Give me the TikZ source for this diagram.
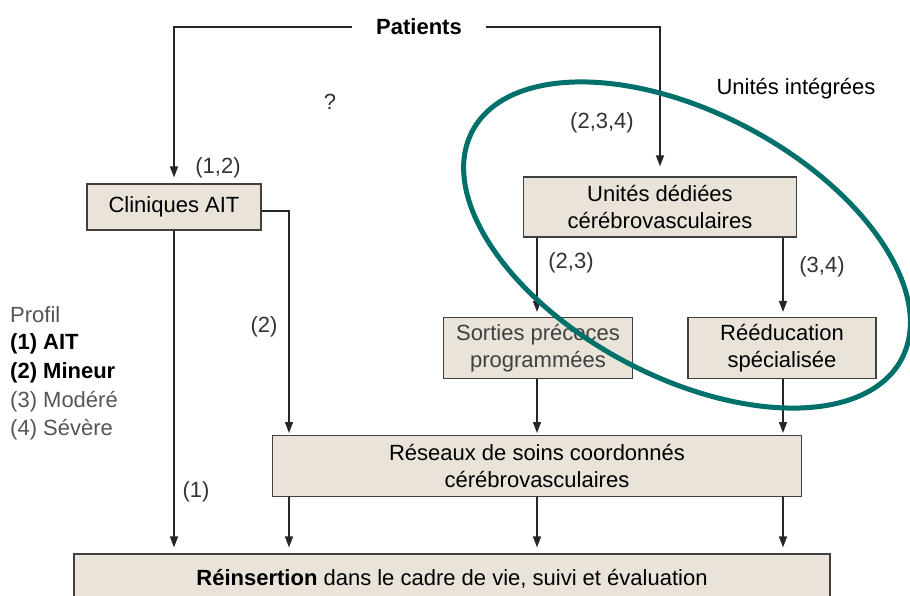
\documentclass[tikz,border=0pt]{standalone}
\usepackage{fontspec}
\setmainfont{Liberation Sans}
\usetikzlibrary{arrows.meta}
\usetikzlibrary{positioning}
\definecolor{boxfill}{HTML}{E9E3D9}
\definecolor{ringteal}{HTML}{00706B}
\definecolor{softgray}{HTML}{555555}

\begin{document}
\begin{tikzpicture}[x=1pt, y=-1pt]
	\tikzstyle{unit}=[draw=black!75, fill=boxfill, line width=1.2pt, align=center,
	                  inner sep=2pt, font=\fontsize{22}{27}\selectfont];
	\tikzstyle{la}=[font=\fontsize{22}{27}\selectfont, text=black!80, inner sep=1pt];
	\tikzstyle{leg}=[font=\fontsize{22}{27}\selectfont, anchor=west, inner sep=0pt];
	\tikzstyle{flow}=[draw=black!85, line width=1.3pt, -{Triangle[length=11pt, width=8pt]}];
	\fill[white] (0,0) rectangle (910,595);
	\useasboundingbox (0,0) rectangle (910,595);
	% boxes
	\node[font=\fontsize{22}{27}\selectfont\bfseries, inner xsep=24pt] (patients) at (419,27) {Patients};
	\node[unit, minimum width=174pt, minimum height=46pt] (cliniques) at (174,207) {Cliniques AIT};
	\node[unit, minimum width=273pt, minimum height=60pt] (dediees) at (660,207) {Unités dédiées\\cérébrovasculaires};
	\node[unit, minimum width=189pt, minimum height=61pt, text=black!75] (sorties) at (538,348) {Sorties précoces\\programmées};
	\node[unit, minimum width=188pt, minimum height=61pt] (reeduc) at (782,348) {Rééducation\\spécialisée};
	\node[unit, minimum width=529pt, minimum height=61pt] (reseaux) at (537,466) {Réseaux de soins coordonnés\\cérébrovasculaires};
	\node[unit, minimum width=756pt, minimum height=50pt] (reinsertion) at (452,579) {\textbf{Réinsertion} dans le cadre de vie, suivi et évaluation};
	% columns into and out of the network box
	\foreach \i/\x in {1/289, 2/537, 3/783}
	{\coordinate (top\i) at (\x,436);
	 \coordinate (bot\i) at (\x,497);}
	% connectors
	\draw[flow, shorten >=6pt] (patients.west) -| (cliniques.north);
	\draw[flow, shorten >=10pt] (patients.east) -| (dediees.north);
	\draw[flow, shorten >=6pt] (cliniques.south) -- (cliniques.south |- reinsertion.north);
	\draw[flow, shorten >=3pt] ([yshift=-4pt]cliniques.east) -| (top1);
	\draw[flow, shorten >=5pt] (top2 |- dediees.south) -- (top2 |- sorties.north);
	\draw[flow, shorten >=5pt] (top3 |- dediees.south) -- (top3 |- reeduc.north);
	\draw[flow, shorten >=3pt] (top2 |- sorties.south) -- (top2);
	\draw[flow, shorten >=3pt] (top3 |- reeduc.south) -- (top3);
	\foreach \i in {1,2,3}
	{\draw[flow, shorten >=6pt] (bot\i) -- (bot\i |- reinsertion.north);}
	% labels
	\node[la] (l12) at (218,168) {(1,2)};
	\node[la] (l234) at (602,123) {(2,3,4)};
	\node[la] (l23) at (571,263) {(2,3)};
	\node[la] (l34) at (822,267) {(3,4)};
	\node[la] (l2) at (264,327) {(2)};
	\node[la] (l1) at (196,492) {(1)};
	\node[la] (qmark) at (330,102) {?};
	\node[la, text=black] (integrees) at (796,89) {Unités intégrées};
	% profile legend
	\node[leg, text=softgray] (profil) at (10,315) {Profil};
	\node[leg] (p1) at (10,344) {\textbf{(1) AIT}};
	\node[leg] (p2) at (10,373) {\textbf{(2) Mineur}};
	\node[leg, text=softgray] (p3) at (10,402) {(3) Modéré};
	\node[leg, text=softgray] (p4) at (10,430) {(4) Sévère};
	% integrated units ring
	\draw[ringteal, line width=5pt, rotate around={-28:(687,245)}] (687,245) ellipse [x radius=243, y radius=132];
\end{tikzpicture}
\end{document}
